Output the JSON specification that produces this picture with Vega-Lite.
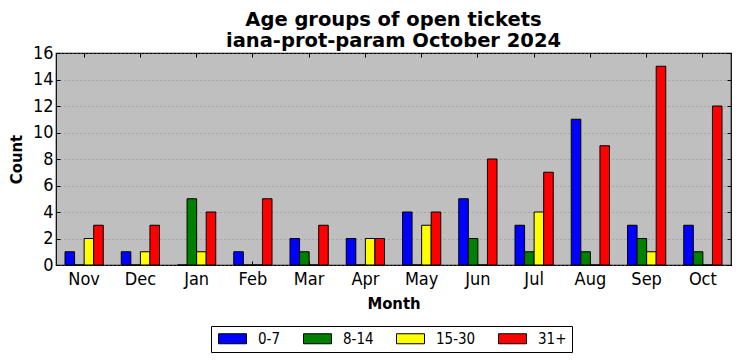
{
  "$schema": "https://vega.github.io/schema/vega-lite/v6.json",
  "autosize": "none",
  "width": 675,
  "height": 212,
  "padding": {"left": 56, "top": 53, "right": 9, "bottom": 96},
  "background": "white",
  "config": {
    "font": "DejaVu Sans Condensed, DejaVu Sans",
    "view": {"fill": "#bfbfbf", "stroke": "black", "strokeWidth": 1.2}
  },
  "title": {
    "text": "Age groups of open tickets",
    "subtitle": "iana-prot-param October 2024",
    "fontSize": 19.5,
    "subtitleFontSize": 19.5,
    "fontWeight": "bold",
    "subtitleFontWeight": "bold",
    "font": "DejaVu Sans",
    "subtitleFont": "DejaVu Sans",
    "color": "black",
    "subtitleColor": "black",
    "anchor": "middle",
    "offset": 5,
    "dy": 70,
    "subtitlePadding": 2
  },
  "data": {
    "values": [
      {"month": "Nov", "group": "0-7", "count": 1}, {"month": "Nov", "group": "8-14", "count": 0}, {"month": "Nov", "group": "15-30", "count": 2}, {"month": "Nov", "group": "31+", "count": 3},
      {"month": "Dec", "group": "0-7", "count": 1}, {"month": "Dec", "group": "8-14", "count": 0}, {"month": "Dec", "group": "15-30", "count": 1}, {"month": "Dec", "group": "31+", "count": 3},
      {"month": "Jan", "group": "0-7", "count": 0}, {"month": "Jan", "group": "8-14", "count": 5}, {"month": "Jan", "group": "15-30", "count": 1}, {"month": "Jan", "group": "31+", "count": 4},
      {"month": "Feb", "group": "0-7", "count": 1}, {"month": "Feb", "group": "8-14", "count": 0}, {"month": "Feb", "group": "15-30", "count": 0}, {"month": "Feb", "group": "31+", "count": 5},
      {"month": "Mar", "group": "0-7", "count": 2}, {"month": "Mar", "group": "8-14", "count": 1}, {"month": "Mar", "group": "15-30", "count": 0}, {"month": "Mar", "group": "31+", "count": 3},
      {"month": "Apr", "group": "0-7", "count": 2}, {"month": "Apr", "group": "8-14", "count": 0}, {"month": "Apr", "group": "15-30", "count": 2}, {"month": "Apr", "group": "31+", "count": 2},
      {"month": "May", "group": "0-7", "count": 4}, {"month": "May", "group": "8-14", "count": 0}, {"month": "May", "group": "15-30", "count": 3}, {"month": "May", "group": "31+", "count": 4},
      {"month": "Jun", "group": "0-7", "count": 5}, {"month": "Jun", "group": "8-14", "count": 2}, {"month": "Jun", "group": "15-30", "count": 0}, {"month": "Jun", "group": "31+", "count": 8},
      {"month": "Jul", "group": "0-7", "count": 3}, {"month": "Jul", "group": "8-14", "count": 1}, {"month": "Jul", "group": "15-30", "count": 4}, {"month": "Jul", "group": "31+", "count": 7},
      {"month": "Aug", "group": "0-7", "count": 11}, {"month": "Aug", "group": "8-14", "count": 1}, {"month": "Aug", "group": "15-30", "count": 0}, {"month": "Aug", "group": "31+", "count": 9},
      {"month": "Sep", "group": "0-7", "count": 3}, {"month": "Sep", "group": "8-14", "count": 2}, {"month": "Sep", "group": "15-30", "count": 1}, {"month": "Sep", "group": "31+", "count": 15},
      {"month": "Oct", "group": "0-7", "count": 3}, {"month": "Oct", "group": "8-14", "count": 1}, {"month": "Oct", "group": "15-30", "count": 0}, {"month": "Oct", "group": "31+", "count": 12}
    ]
  },
  "resolve": {"axis": {"x": "independent", "y": "independent"}},
  "layer": [
    {
      "mark": {"type": "bar", "stroke": "black", "strokeWidth": 1},
      "encoding": {
        "x": {
          "field": "month", "type": "nominal",
          "sort": ["Nov", "Dec", "Jan", "Feb", "Mar", "Apr", "May", "Jun", "Jul", "Aug", "Sep", "Oct"],
          "scale": {"paddingInner": 0.32, "paddingOuter": 0.16},
          "axis": {
            "title": "Month", "titleFontSize": 16.5, "titleFontWeight": "bold", "titleColor": "black", "titlePadding": 7,
            "labelAngle": 0, "labelFontSize": 18, "labelColor": "black", "labelPadding": 9,
            "tickSize": -4, "tickColor": "black", "domain": false, "grid": false
          }
        },
        "xOffset": {"field": "group", "type": "nominal", "sort": ["0-7", "8-14", "15-30", "31+"], "scale": {"paddingInner": 0, "paddingOuter": 0}},
        "y": {
          "field": "count", "type": "quantitative",
          "scale": {"domain": [0, 16], "nice": false},
          "axis": {
            "title": "Count", "titleFontSize": 16.5, "titleFontWeight": "bold", "titleColor": "black", "titlePadding": 8,
            "values": [0, 2, 4, 6, 8, 10, 12, 14, 16],
            "labelFontSize": 18, "labelColor": "black", "labelPadding": 7,
            "tickSize": -4, "tickColor": "black", "domain": false,
            "grid": true, "gridColor": "#808080", "gridDash": [1, 3], "gridWidth": 0.8
          }
        },
        "color": {
          "field": "group", "type": "nominal",
          "sort": ["0-7", "8-14", "15-30", "31+"],
          "scale": {"domain": ["0-7", "8-14", "15-30", "31+"], "range": ["#0000ff", "#008000", "#ffff00", "#ff0000"]},
          "legend": {
            "title": null, "orient": "none", "direction": "horizontal",
            "legendX": 155, "legendY": 273,
            "strokeColor": "black", "fillColor": "white", "padding": 5,
            "symbolType": "M-1,-1h5.6v2h-5.6z", "symbolSize": 100,
            "symbolStrokeColor": "black", "symbolStrokeWidth": 1, "symbolOpacity": 1,
            "labelFontSize": 15, "labelColor": "black", "labelOffset": 27,
            "columnPadding": 20
          }
        }
      }
    },
    {
      "mark": {"type": "bar", "opacity": 0},
      "encoding": {
        "x": {
          "field": "month", "type": "nominal",
          "sort": ["Nov", "Dec", "Jan", "Feb", "Mar", "Apr", "May", "Jun", "Jul", "Aug", "Sep", "Oct"],
          "axis": {"orient": "top", "labels": false, "title": null, "tickSize": -4, "tickColor": "black", "domain": false}
        },
        "y": {
          "field": "count", "type": "quantitative",
          "axis": {"orient": "right", "labels": false, "title": null, "values": [0, 2, 4, 6, 8, 10, 12, 14, 16], "tickSize": -4, "tickColor": "black", "domain": false, "grid": false}
        }
      }
    }
  ]
}
